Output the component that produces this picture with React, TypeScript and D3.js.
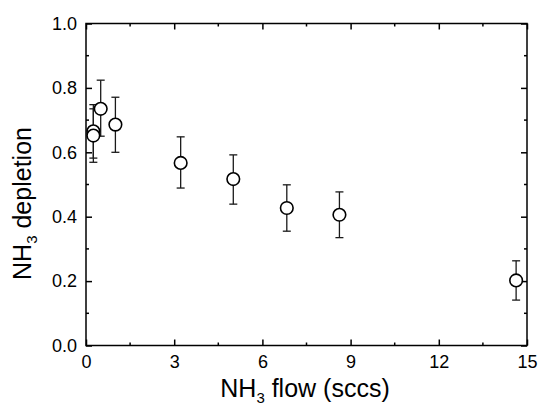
import { useRef, useEffect } from "react";
import * as d3 from "d3";

// NH3 flow (sccs)
const flow = [0.25, 0.25, 0.5, 1.0, 3.22, 5.01, 6.83, 8.62, 14.63];
// NH3 depletion
const depletion = [0.665, 0.652, 0.735, 0.686, 0.567, 0.517, 0.427, 0.406, 0.202];
const errUp = [0.748, 0.735, 0.824, 0.771, 0.648, 0.592, 0.499, 0.477, 0.263];
const errDown = [0.582, 0.569, 0.65, 0.6, 0.489, 0.439, 0.355, 0.335, 0.141];

const xTicks = [0, 3, 6, 9, 12, 15];
const yTicks = [0, 0.2, 0.4, 0.6, 0.8, 1.0];

const width = 539,
  height = 412,
  marginTop = 23.5,
  marginRight = 12,
  marginBottom = 66.5,
  marginLeft = 86;

const font = "'Liberation Sans', Arial, sans-serif";

export default function App() {
  const gx = useRef(null),
    gy = useRef(null),
    gxTop = useRef(null),
    gyRight = useRef(null);

  const x = d3.scaleLinear().domain([0, 15]).range([marginLeft, width - marginRight]);
  const y = d3.scaleLinear().domain([0, 1]).range([height - marginBottom, marginTop]);

  const xMinor = d3.range(1.5, 15, 3);
  const yMinor = d3.range(0.1, 1, 0.2);

  useEffect(() => {
    const style = (g) => {
      g.select(".domain").remove();
      g.selectAll("line").attr("stroke", "#000").attr("stroke-width", 1.5);
      g.selectAll("text")
        .attr("fill", "#000")
        .style("font-family", font)
        .style("font-size", "18px");
    };
    // major ticks pointing inward
    d3.select(gx.current)
      .call(d3.axisBottom(x).tickValues(xTicks).tickSize(-6).tickPadding(10).tickFormat(d3.format("d")))
      .call(style);
    d3.select(gy.current)
      .call(d3.axisLeft(y).tickValues(yTicks).tickSize(-6).tickPadding(9).tickFormat(d3.format(".1f")))
      .call(style);
    d3.select(gxTop.current)
      .call(d3.axisTop(x).tickValues(xTicks).tickSize(-6).tickFormat(() => ""))
      .call(style);
    d3.select(gyRight.current)
      .call(d3.axisRight(y).tickValues(yTicks).tickSize(-6).tickFormat(() => ""))
      .call(style);
  }, []);

  const plotBottom = height - marginBottom;
  const plotRight = width - marginRight;

  return (
    <svg width={width} height={height} style={{ position: "absolute", left: 0, top: 0, background: "#fff" }}>
      <g ref={gx} transform={`translate(0,${plotBottom})`} />
      <g ref={gy} transform={`translate(${marginLeft},0)`} />
      <g ref={gxTop} transform={`translate(0,${marginTop})`} />
      <g ref={gyRight} transform={`translate(${plotRight},0)`} />

      {/* minor ticks */}
      <g stroke="#000" strokeWidth={1.5}>
        {xMinor.map((v) => (
          <g key={"xm" + v}>
            <line x1={x(v)} x2={x(v)} y1={plotBottom} y2={plotBottom - 3} />
            <line x1={x(v)} x2={x(v)} y1={marginTop} y2={marginTop + 3} />
          </g>
        ))}
        {yMinor.map((v) => (
          <g key={"ym" + v}>
            <line x1={marginLeft} x2={marginLeft + 3} y1={y(v)} y2={y(v)} />
            <line x1={plotRight} x2={plotRight - 3} y1={y(v)} y2={y(v)} />
          </g>
        ))}
      </g>

      {/* frame */}
      <rect
        x={marginLeft}
        y={marginTop}
        width={plotRight - marginLeft}
        height={plotBottom - marginTop}
        fill="none"
        stroke="#000"
        strokeWidth={1.5}
      />

      {/* error bars */}
      <g stroke="#1a1a1a" strokeWidth={1.3}>
        {flow.map((f, i) => (
          <g key={"e" + i}>
            <line x1={x(f)} x2={x(f)} y1={y(errUp[i])} y2={y(errDown[i])} />
            <line x1={x(f) - 4} x2={x(f) + 4} y1={y(errUp[i])} y2={y(errUp[i])} />
            <line x1={x(f) - 4} x2={x(f) + 4} y1={y(errDown[i])} y2={y(errDown[i])} />
          </g>
        ))}
      </g>

      {/* points */}
      <g fill="#fff" stroke="#000" strokeWidth={1.6}>
        {flow.map((f, i) => (
          <circle key={"p" + i} cx={x(f)} cy={y(depletion[i])} r={6.3} />
        ))}
      </g>

      {/* axis titles */}
      <text x={305} y={397} textAnchor="middle" fontFamily={font} fontSize={25} fill="#000">
        NH<tspan fontSize={15} dy={6}>3</tspan>
        <tspan dy={-6}> flow (sccs)</tspan>
      </text>
      <text
        transform={`translate(31,203.5) rotate(-90)`}
        textAnchor="middle"
        fontFamily={font}
        fontSize={25}
        fill="#000"
      >
        NH<tspan fontSize={15} dy={6}>3</tspan>
        <tspan dy={-6}> depletion</tspan>
      </text>
    </svg>
  );
}
